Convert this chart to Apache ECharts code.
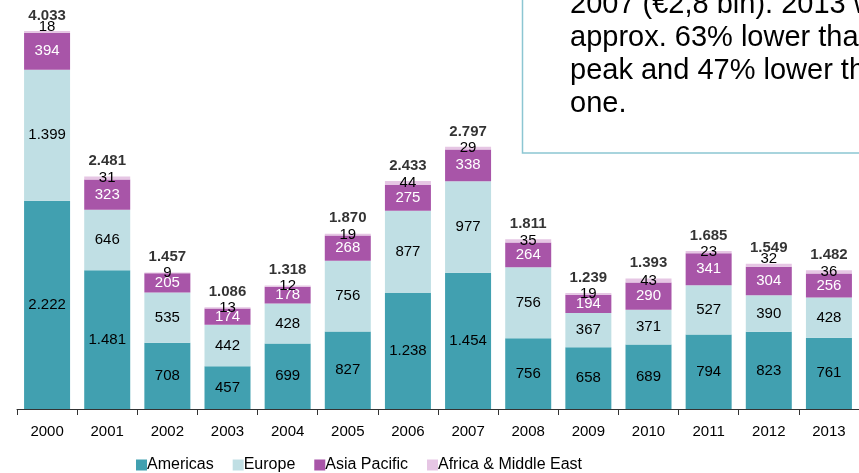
<!DOCTYPE html>
<html>
<head>
<meta charset="utf-8">
<script src="https://cdn.jsdelivr.net/npm/echarts@6/dist/echarts.min.js"></script>
<style>html,body{margin:0;padding:0;background:#fff}#c{width:859px;height:473px}</style>
</head>
<body>
<div id="c"></div>
<script>
const years = ['2000','2001','2002','2003','2004','2005','2006','2007','2008','2009','2010','2011','2012','2013'];
const americas = [2222,1481,708,457,699,827,1238,1454,756,658,689,794,823,761];
const europe = [1399,646,535,442,428,756,877,977,756,367,371,527,390,428];
const asiaPacific = [394,323,205,174,178,268,275,338,264,194,290,341,304,256];
const africaME = [18,31,9,13,12,19,44,29,35,19,43,23,32,36];
const totals = [4033,2481,1457,1086,1318,1870,2433,2797,1811,1239,1393,1685,1549,1482];
const boxLines = ['2007 (€2,8 bln). 2013 was', 'approx. 63% lower than the', 'peak and 47% lower than the', 'one.'];

function fmt(v){ return String(v).replace(/\B(?=(\d{3})+(?!\d))/g, '.'); }

const FONT = '"Liberation Sans", Arial, sans-serif';
// labels nudged upward in the original (year index -> px)
const ameShift = {0:-5, 12:-6};
const chart = echarts.init(document.getElementById('c'), null, {renderer:'canvas'});
const base = {type:'bar', stack:'s', barWidth:46, emphasis:{disabled:true}};
const segLabel = (color) => ({show:true, position:'inside', color:color, fontSize:15, fontFamily:FONT, formatter:p=>fmt(p.value)});
chart.setOption({
  animation:false,
  textStyle:{fontFamily:FONT},
  grid:{left:17, top:0, width:847, height:409},
  xAxis:{type:'category', data:years,
    axisLine:{lineStyle:{color:'#333', width:1}},
    axisTick:{show:true, length:6, lineStyle:{color:'#333'}},
    axisLabel:{color:'#000', fontSize:15, margin:15, fontFamily:FONT}},
  yAxis:{type:'value', min:0, max:4364, show:false, splitLine:{show:false}},
  legend:{data:['Americas','Europe','Asia Pacific','Africa & Middle East'],
    top:457, left:136, padding:0, itemWidth:11, itemHeight:11, itemGap:19, icon:'rect',
    textStyle:{fontSize:16, color:'#000', fontFamily:FONT, padding:[0,0,0,-5]}},
  series:[
    Object.assign({}, base, {name:'Americas', data:americas, itemStyle:{color:'#41a0b0'}, label:segLabel('#000')}),
    Object.assign({}, base, {name:'Europe', data:europe, itemStyle:{color:'#c0dfe4'}, label:segLabel('#000')}),
    Object.assign({}, base, {name:'Asia Pacific', data:asiaPacific, itemStyle:{color:'#a855a8'}, label:segLabel('#fff')}),
    Object.assign({}, base, {name:'Africa & Middle East', itemStyle:{color:'#e6c6e4'},
      data:africaME.map((v,i)=>({value:v, label:{offset:[0, ameShift[i]||0]}})),
      label:{show:true, position:'inside', color:'#000', fontSize:15, fontFamily:FONT}}),
    {type:'scatter', name:'Total', data:totals, symbolSize:0, silent:true, z:5,
      label:{show:true, position:'top', distance:8, color:'#000', fontSize:15, fontWeight:'bold', fontFamily:FONT, formatter:p=>fmt(p.value)}}
  ],
  graphic:[
    {type:'rect', z:100, shape:{x:522.5, y:-10, width:400, height:163}, style:{fill:'#fff', stroke:'#8cc6d2', lineWidth:1.5}},
    {type:'text', z:101, left:570, top:-12, style:{text:boxLines.join('\n'), fontSize:29, lineHeight:33, fill:'#000', font:'29px '+FONT}}
  ]
});
</script>
</body>
</html>
